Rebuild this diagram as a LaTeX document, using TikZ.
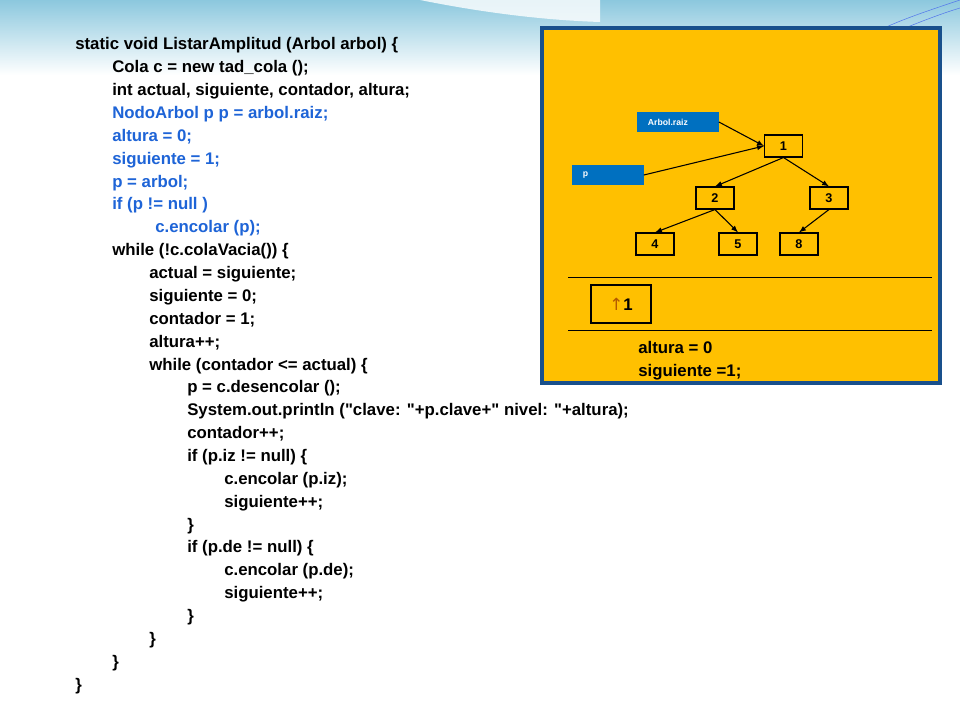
\documentclass[tikz,border=0pt]{standalone}
\usepackage{fontspec}
\setmainfont{Liberation Sans}
\newfontfamily\dejavu{DejaVu Sans}
\definecolor{codeblue}{RGB}{30,100,215}
\definecolor{panel}{RGB}{255,192,0}
\definecolor{panelborder}{RGB}{25,80,140}
\definecolor{boxblue}{RGB}{0,112,192}
\definecolor{skytop}{RGB}{140,200,222}
\begin{document}
\begin{tikzpicture}[x=0.75pt,y=-0.75pt,
  code/.style={anchor=base west,inner sep=0,font=\bfseries\fontsize{12.6}{14}\selectfont},
  blu/.style={code,text=codeblue},
  tnode/.style={draw=black,thick,minimum width=28.5pt,minimum height=16.5pt,inner sep=0,font=\bfseries\fontsize{9.5}{10}\selectfont},
  lbl/.style={fill=boxblue,text=white,anchor=west,minimum height=15.5pt,inner sep=0,text width=61pt,align=left,font=\bfseries\fontsize{6.5}{7}\selectfont},
  arr/.style={-latex,thick}]
\useasboundingbox (0,0) rectangle (960,720);
\fill[white] (0,0) rectangle (960,720);
\shade[top color=skytop,bottom color=white] (0,0) rectangle (960,75);
\fill[white,opacity=0.8] (420,0) .. controls (480,12) and (540,20) .. (600,22) -- (600,0) -- cycle;
\draw[skytop!60!blue,thin] (880,30) .. controls (900,20) and (930,10) .. (960,0);
\draw[skytop!60!blue,thin] (900,30) .. controls (920,22) and (940,14) .. (960,8);
% code
\node[code] (l1) at (75,50) {static void ListarAmplitud (Arbol arbol) \{};
\node[code] (l2) at (112,72.9) {Cola c = new tad\_cola ();};
\node[code] (l3) at (112,95.7) {int actual, siguiente, contador, altura;};
\node[blu] (l4) at (112,118.6) {NodoArbol p p = arbol.raiz;};
\node[blu] (l5) at (112,141.4) {altura = 0;};
\node[blu] (l6) at (112,164.3) {siguiente = 1;};
\node[blu] (l7) at (112,187.2) {p = arbol;};
\node[blu] (l8) at (112,210) {if (p != null )};
\node[blu] (l9) at (155,232.9) {c.encolar (p);};
\node[code] (l10) at (112,255.7) {while (!c.colaVacia()) \{};
\node[code] (l11) at (149,278.6) {actual = siguiente;};
\node[code] (l12) at (149,301.5) {siguiente = 0;};
\node[code] (l13) at (149,324.3) {contador = 1;};
\node[code] (l14) at (149,347.2) {altura++;};
\node[code] (l15) at (149,370) {while (contador <= actual) \{};
\node[code] (l16) at (187,392.9) {p = c.desencolar ();};
\node[code] (l17) at (187,415.7) {System.out.println (\textquotedbl clave: \textquotedbl +p.clave+\textquotedbl\ nivel: \textquotedbl +altura);};
\node[code] (l18) at (187,438.6) {contador++;};
\node[code] (l19) at (187,461.5) {if (p.iz != null) \{};
\node[code] (l20) at (224,484.3) {c.encolar (p.iz);};
\node[code] (l21) at (224,507.2) {siguiente++;};
\node[code] (l22) at (187,530) {\}};
\node[code] (l23) at (187,552.9) {if (p.de != null) \{};
\node[code] (l24) at (224,575.7) {c.encolar (p.de);};
\node[code] (l25) at (224,598.6) {siguiente++;};
\node[code] (l26) at (187,621.5) {\}};
\node[code] (l27) at (149,644.3) {\}};
\node[code] (l28) at (112,667.2) {\}};
\node[code] (l29) at (75,690) {\}};
% panel
\draw[panelborder,line width=2.5pt,fill=panel] (542,28) rectangle (940,383);
\node[lbl] (raiz) at (637,122) {\hspace*{8pt}Arbol.raiz};
\node[lbl,text width=53.5pt] (p) at (572,175) {\hspace*{8pt}p};
\node[tnode] (n1) at (783.5,146) {1};
\node[tnode] (n2) at (715,198) {2};
\node[tnode] (n3) at (829,198) {3};
\node[tnode] (n4) at (655,244) {4};
\node[tnode] (n5) at (738,244) {5};
\node[tnode] (n8) at (799,244) {8};
\draw[arr] (raiz.east) -- (n1.west);
\draw[arr] (p.east) -- (n1.west);
\draw[arr] (n1.south) -- (n2.north);
\draw[arr] (n1.south) -- (n3.north);
\draw[arr] (n2.south) -- (n4.north);
\draw[arr] (n2.south) -- (n5.north);
\draw[arr] (n3.south) -- (n8.north);
\coordinate (a1) at (568,277); \coordinate (a2) at (932,277);
\coordinate (b1) at (568,330); \coordinate (b2) at (932,330);
\draw[thin] (a1) -- (a2);
\draw[thin] (b1) -- (b2);
\node[draw=black,thick,minimum width=45pt,minimum height=28.5pt,inner sep=0,font=\bfseries\fontsize{12.6}{14}\selectfont] (q) at (621,304) {{\dejavu\mdseries\color{orange!70!black}↑}1};
\node[code] (alt) at (638,353) {altura = 0};
\node[code] (sig) at (638,376) {siguiente =1;};
\end{tikzpicture}
\end{document}
